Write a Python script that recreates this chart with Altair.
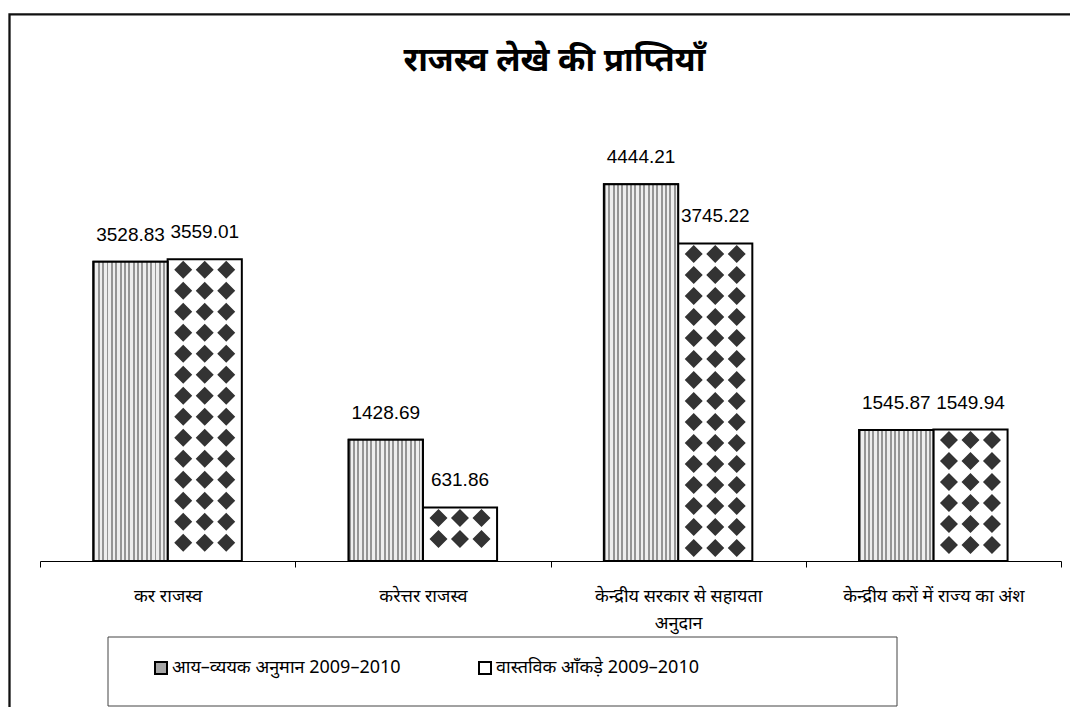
import altair as alt
import pandas as pd

# ---- data ----
categories = [
    "कर राजस्व",
    "करेत्तर राजस्व",
    "केन्द्रीय सरकार से सहायता\nअनुदान",
    "केन्द्रीय करों में राज्य का  अंश",
]
series = ["आय–व्ययक अनुमान 2009–2010", "वास्तविक आँकड़े 2009–2010"]
budget = [3528.83, 1428.69, 4444.21, 1545.87]
actual = [3559.01, 631.86, 3745.22, 1549.94]
title_text = "राजस्व लेखे की प्राप्तियाँ"

rows = []
for c, b, a in zip(categories, budget, actual):
    rows.append({"category": c, "series": series[0], "value": b})
    rows.append({"category": c, "series": series[1], "value": a})
df = pd.DataFrame(rows)

# ---- layout / style ----
W, H = 1021, 424
YMAX = 5000
ROW_PX = 21
row_step = ROW_PX * YMAX / H
DEV_FONT = "Noto Sans"
NUM_FONT = "Liberation Sans"

# vertical stripe pattern as a hard-stop gradient
n_str = 17
stops = []
for i in range(n_str):
    a = i / n_str
    m = (i + 0.45) / n_str
    b = (i + 1) / n_str
    stops += [
        alt.GradientStop(offset=a, color="#959595"),
        alt.GradientStop(offset=m, color="#959595"),
        alt.GradientStop(offset=m, color="#eeeeee"),
        alt.GradientStop(offset=b, color="#eeeeee"),
    ]
stripe_fill = alt.LinearGradient(gradient="linear", stops=stops, x1=0, x2=1, y1=0, y2=0)

# a row of three diamonds as one custom symbol (units scaled by sqrt(size)/2)
HALF_ROW_PX = 32.5
dia_r = 9 / HALF_ROW_PX
dia_c = 21.5 / HALF_ROW_PX
parts = []
for c in (-dia_c, 0.0, dia_c):
    parts.append(
        f"M{c - dia_r:.4f},0L{c:.4f},{-dia_r:.4f}L{c + dia_r:.4f},0L{c:.4f},{dia_r:.4f}Z"
    )
diamond_row_path = "".join(parts)

x_enc = alt.X(
    "category:N",
    sort=categories,
    scale=alt.Scale(domain=categories, paddingInner=0, paddingOuter=0),
    axis=alt.Axis(
        title=None,
        tickBand="extent",
        labelAngle=0,
        labelFont=DEV_FONT,
        labelFontSize=18,
        labelColor="#000",
        labelPadding=20,
        labelLineHeight=27,
        labelLimit=400,
        tickSize=6,
        tickColor="#000",
        domainColor="#000",
        labelExpr="split(datum.label, '\\n')",
    ),
)
xo_enc = alt.XOffset(
    "series:N",
    sort=series,
    scale=alt.Scale(domain=series, paddingInner=0, paddingOuter=0.72),
)
yscale = alt.Scale(domain=[0, YMAX], nice=False, zero=True)
y_enc = alt.Y("value:Q", scale=yscale, axis=None)

bars = alt.Chart(df).mark_bar(stroke="#000", strokeWidth=2).encode(
    x=x_enc,
    xOffset=xo_enc,
    y=y_enc,
    fill=alt.Fill(
        "series:N",
        sort=series,
        scale=alt.Scale(domain=series, range=["#a6a6a6", "#ffffff"]),
        legend=alt.Legend(
            title=None,
            orient="none",
            legendX=112,
            legendY=522,
            direction="horizontal",
            symbolType="square",
            symbolSize=144,
            symbolStrokeWidth=2,
            symbolStrokeColor="#000",
            labelFont=DEV_FONT,
            labelFontSize=18,
            labelColor="#000",
            labelLimit=500,
            columnPadding=74,
            labelOffset=2,
            padding=0,
        ),
    ),
)

stripes = (
    alt.Chart(df)
    .transform_filter(alt.datum.series == series[0])
    .mark_bar(fill=stripe_fill, stroke="#000", strokeWidth=2)
    .encode(x=x_enc, xOffset=xo_enc, y=y_enc)
)

diamonds = (
    alt.Chart(df)
    .transform_filter(alt.datum.series == series[1])
    .transform_calculate(row=f"sequence(0, floor(datum.value / {row_step}))")
    .transform_flatten(["row"])
    .transform_calculate(ypos=f"datum.value - (datum.row + 0.5) * {row_step}")
    .mark_point(
        shape=diamond_row_path,
        filled=True,
        color="#333333",
        size=(2 * HALF_ROW_PX) ** 2,
        opacity=1,
    )
    .encode(x=x_enc, xOffset=xo_enc, y=alt.Y("ypos:Q", scale=yscale, axis=None))
)

labels = alt.Chart(df).mark_text(
    font=NUM_FONT, fontSize=19, baseline="alphabetic", dy=-21, color="#000"
).encode(
    x=x_enc,
    xOffset=xo_enc,
    y=y_enc,
    text=alt.Text("value:Q", format=".2f"),
)

one = pd.DataFrame({"k": [0]})
frame = alt.Chart(one).mark_rect(fill="transparent", stroke="#111", strokeWidth=2.3).encode(
    x=alt.value(-30.5), x2=alt.value(1100), y=alt.value(-122.7), y2=alt.value(700)
)
legend_box = alt.Chart(one).mark_rect(fill="transparent", stroke="#444", strokeWidth=1).encode(
    x=alt.value(68), x2=alt.value(857), y=alt.value(500), y2=alt.value(569)
)
title = alt.Chart(one).mark_text(
    text=title_text,
    font=DEV_FONT,
    fontSize=33,
    fontWeight="bold",
    color="#000",
    align="center",
    baseline="alphabetic",
).encode(x=alt.value(W / 2 + 4), y=alt.value(-66))

chart = (
    alt.layer(frame, legend_box, title, bars, stripes, diamonds, labels)
    .properties(
        width=W,
        height=H,
        padding={"left": 32, "top": 129, "right": 9, "bottom": 146},
        autosize=alt.AutoSizeParams(type="none"),
    )
    .configure_view(stroke=None)
)

chart.save("out.html", embed_options={"renderer": "svg", "actions": False})
